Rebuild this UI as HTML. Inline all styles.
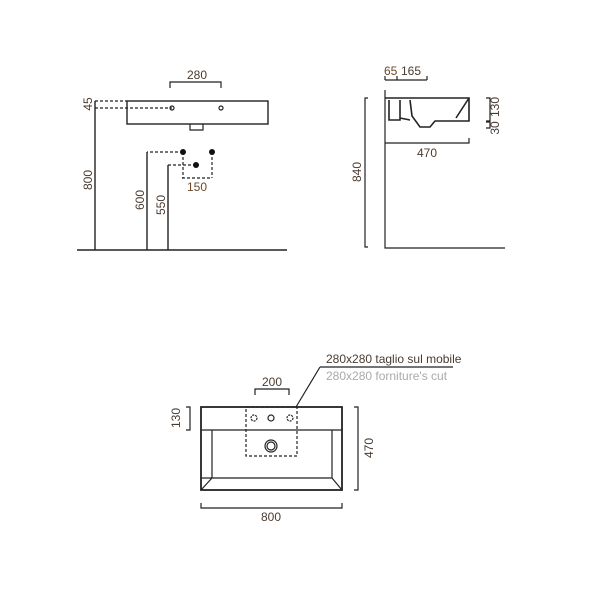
<!DOCTYPE html>
<html><head><style>body{margin:0;background:#fff}svg{display:block}text{font-family:"Liberation Sans",sans-serif;font-size:12px;fill:#4a3b30}</style></head><body>
<svg width="600" height="600" viewBox="0 0 600 600" xmlns="http://www.w3.org/2000/svg">
<g fill="none" stroke="#222" stroke-width="1.2">
<path d="M170 88V82H221V88"/>
<rect x="127" y="101" width="141" height="23" stroke-width="1.4"/>
<path d="M190 124V130H203V124"/>
<path d="M95 101V250M147 152V250M168 165V250M77 250H287" stroke-width="1.4"/>
<path d="M95 101H127M95 108H172M183 152H147M196 165H168M183 152V178M212 152V178M182 178H212" stroke-dasharray="3,2"/>
<circle cx="172" cy="108" r="2"/><circle cx="221" cy="108" r="2"/>
<path d="M385 80V76M397 80V76M427 80V76M385 80H427"/>
<path d="M385 90V248H505M368 98H365V247H368M385 143H469V138M385 143V138" stroke-width="1.2"/>
<path d="M385 98H469V121H435L430 127H420L412 116L410 100M469 98L456 118M389 100V120H400V100M400 118L410 120" stroke-width="1.6"/>
<path d="M486 98H490V121H486M486 122H490V128H486"/>
<path d="M320 367H453M320 367L296 407"/>
<path d="M255 395V389H289V395"/>
<rect x="201" y="407" width="141" height="83" stroke-width="1.8"/>
<path d="M212 430H332V478H212ZM201 430L212 430M342 430H332M201 478L212 478M332 478L342 490M212 478L201 490"/>
<rect x="246" y="407" width="51" height="49" stroke-dasharray="3,2"/>
<circle cx="254" cy="418" r="3" stroke-dasharray="2,1"/><circle cx="271" cy="418" r="3"/><circle cx="290" cy="418" r="3" stroke-dasharray="2,1"/>
<circle cx="271" cy="446" r="6"/><circle cx="271" cy="446" r="4"/>
<path d="M186 407H190V430H186M354 407H358V490H354M201 503V508H342V503"/>
</g>
<g fill="#111"><circle cx="183" cy="152" r="3"/><circle cx="212" cy="152" r="3"/><circle cx="196" cy="165" r="3"/></g>
<text x="197" y="79" text-anchor="middle">280</text>
<text x="197" y="191" text-anchor="middle" style="fill:#6b4a2a">150</text>
<text transform="translate(92,104) rotate(-90)" text-anchor="middle">45</text>
<text transform="translate(92,180) rotate(-90)" text-anchor="middle">800</text>
<text transform="translate(144,200) rotate(-90)" text-anchor="middle">600</text>
<text transform="translate(165,205) rotate(-90)" text-anchor="middle">550</text>
<text x="384" y="75" style="fill:#6b4a2a">65</text><text x="401" y="75">165</text>
<text transform="translate(361,172) rotate(-90)" text-anchor="middle">840</text>
<text x="427" y="157" text-anchor="middle">470</text>
<text transform="translate(499,107) rotate(-90)" text-anchor="middle">130</text>
<text transform="translate(499,128) rotate(-90)" text-anchor="middle">30</text>
<text x="326" y="363">280x280 taglio sul mobile</text>
<text x="326" y="380" style="fill:#aaa">280x280 forniture's cut</text>
<text x="272" y="386" text-anchor="middle">200</text>
<text transform="translate(180,418) rotate(-90)" text-anchor="middle">130</text>
<text transform="translate(373,448) rotate(-90)" text-anchor="middle">470</text>
<text x="271" y="521" text-anchor="middle">800</text>
</svg></body></html>
